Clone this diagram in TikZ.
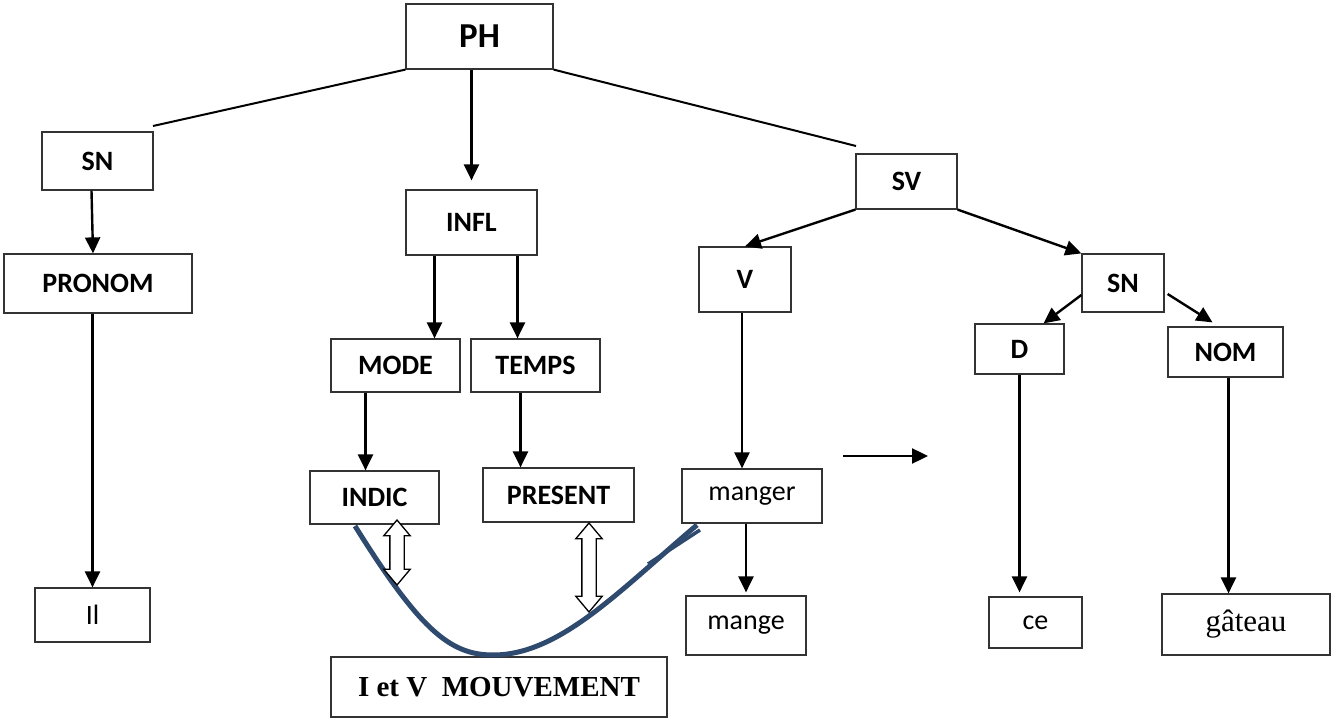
\documentclass[tikz,border=0pt]{standalone}
\usepackage{fontspec}
\setmainfont{Carlito}
\newfontfamily\romain{Liberation Serif}
\usetikzlibrary{arrows.meta,shapes.arrows,positioning}
\definecolor{bleufonce}{HTML}{2E4A6E}

\tikzset{
    boite/.style={draw=black!80, line width=1.2pt, inner sep=0pt, font=\fontsize{28}{32}\selectfont\bfseries},
    mot/.style={boite, font=\fontsize{28}{32}\selectfont},
    fleche/.style={->, line width=2.4pt},
    branche/.style={line width=2pt},
    mouv/.style={draw=bleufonce, line width=5pt},
    dfleche/.style={draw, line width=1.3pt, fill=white, shape=double arrow, shape border rotate=90,
        minimum width=22pt, double arrow head extend=6pt, inner sep=6.5pt, double arrow tip angle=80}
}

\begin{document}
\begin{tikzpicture}[x=1pt,y=-1pt,>={Triangle[length=16pt,width=15pt]}]
    \useasboundingbox (0,0) rectangle (1331,719);

    % les boites
    \node[boite, minimum width=147pt, minimum height=65pt, font=\fontsize{35}{38}\selectfont\bfseries] (ph) at (479.5,36.5) {PH};
    \node[boite, minimum width=111pt, minimum height=58pt] (sna) at (97.5,161) {SN};
    \node[boite, minimum width=188pt, minimum height=59pt] (pronom) at (98,283.5) {PRONOM};
    \node[mot, minimum width=115pt, minimum height=54pt] (il) at (92.5,615) {Il};
    \node[boite, minimum width=131pt, minimum height=65pt] (infl) at (471.5,222.5) {INFL};
    \node[boite, minimum width=129pt, minimum height=53pt] (mode) at (395.5,365.5) {MODE};
    \node[boite, minimum width=129pt, minimum height=53pt] (temps) at (535.5,365.5) {TEMPS};
    \node[boite, minimum width=129pt, minimum height=53pt] (indic) at (374.5,497.5) {INDIC};
    \node[boite, minimum width=151pt, minimum height=54pt] (present) at (558.5,495) {PRESENT};
    \node[mot, minimum width=140pt, minimum height=54pt] (manger) at (752,496) {manger};
    \node[mot, minimum width=120pt, minimum height=59pt] (mange) at (746,625.5) {mange};
    \node[boite, minimum width=336pt, minimum height=60pt, font=\fontsize{29}{32}\selectfont\romain\bfseries] (mouvement) at (499,687) {I et V~~MOUVEMENT};
    \node[boite, minimum width=101pt, minimum height=55pt] (sv) at (906.5,181.5) {SV};
    \node[boite, minimum width=92pt, minimum height=65pt] (v) at (745,279.5) {V};
    \node[boite, minimum width=82pt, minimum height=58pt] (snb) at (1123,283) {SN};
    \node[boite, minimum width=89pt, minimum height=50pt] (d) at (1019.5,349) {D};
    \node[boite, minimum width=115pt, minimum height=50pt] (nom) at (1225.5,352) {NOM};
    \node[mot, minimum width=93pt, minimum height=51pt] (ce) at (1035.5,622.5) {ce};
    \node[mot, minimum width=168pt, minimum height=61pt, font=\fontsize{31}{34}\selectfont\romain] (gateau) at (1246,624.5) {gâteau};

    % branches de PH
    \coordinate (finsn) at (153,126);
    \coordinate (finsv) at (856,146);
    \draw[branche] (ph.south west) -- (finsn);
    \draw[branche] (ph.south east) -- (finsv);
    \draw[fleche, shorten >=9pt] (infl.north |- ph.south) -- (infl.north);

    % fleches
    \draw[fleche] ([xshift=-6pt]sna.south) -- ([xshift=-5pt]pronom.north);
    \draw[fleche] (il.north |- pronom.south) -- (il.north);
    \draw[fleche] ([xshift=-37pt]infl.south) -- ([xshift=-37pt]infl.south |- mode.north);
    \draw[fleche] ([xshift=46pt]infl.south) -- ([xshift=46pt]infl.south |- temps.north);
    \draw[fleche] ([xshift=-30pt]mode.south) -- ([xshift=-30pt]mode.south |- indic.north);
    \draw[fleche] ([xshift=-15pt]temps.south) -- ([xshift=-15pt]temps.south |- present.north);
    \draw[fleche] ([xshift=-3pt]v.south) -- ([xshift=-3pt]v.south |- manger.north);
    \draw[fleche, shorten >=3pt] ([xshift=-6pt]manger.south) -- ([xshift=-6pt]manger.south |- mange.north);
    \draw[fleche] (sv.south west) -- (v.north);
    \draw[fleche] (sv.south east) -- (snb.north west);
    \draw[fleche] ([yshift=-12pt]snb.west) -- ([xshift=24pt]d.north);
    \draw[fleche] ([xshift=3pt,yshift=-11pt]snb.east) -- ([xshift=-13pt,yshift=4pt]nom.north);
    \draw[fleche, shorten >=4pt] (d.south) -- (d.south |- ce.north);
    \draw[fleche] ([xshift=3pt]nom.south) -- ([xshift=3pt]nom.south |- gateau.north);

    \coordinate (dep) at (843,456);
    \coordinate (arr) at (928,456);
    \draw[fleche] (dep) -- (arr);

    % le mouvement
    \draw[mouv] (355,526) .. controls (420,630) and (450,655) .. (493,655)
        .. controls (560,655) and (620,590) .. (697,525);
    \draw[mouv, line width=3.5pt] (648,564) -- (700,530);
    \node[dfleche, minimum height=65pt] (dfa) at (397,552.5) {};
    \node[dfleche, minimum height=89pt] (dfb) at (589,567.5) {};
\end{tikzpicture}
\end{document}
